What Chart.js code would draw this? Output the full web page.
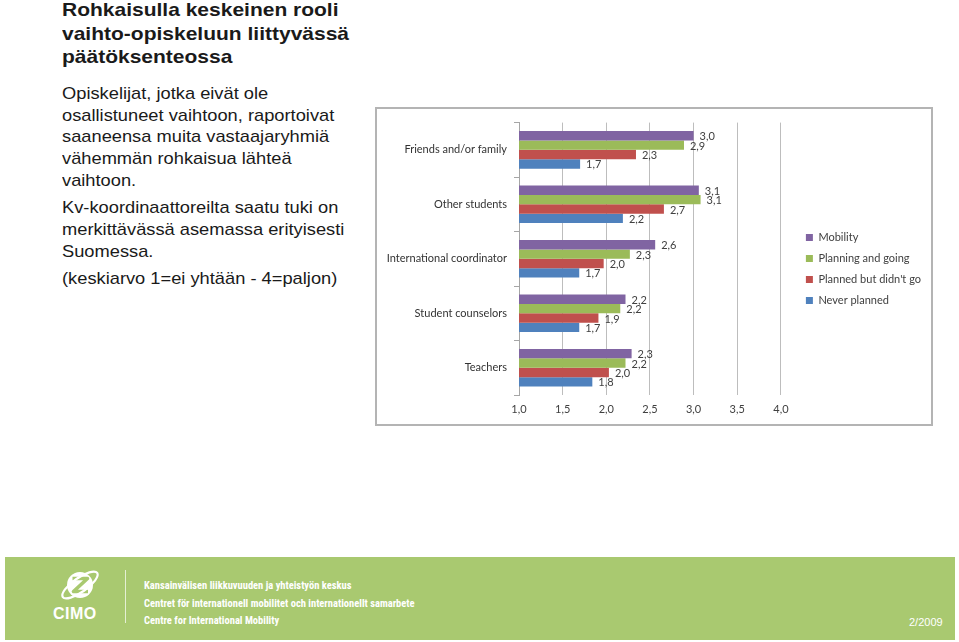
<!DOCTYPE html>
<html>
<head>
<meta charset="utf-8">
<script src="https://cdn.jsdelivr.net/npm/chart.js@4.4.1/dist/chart.umd.min.js"></script>
<style>
  html, body { margin:0; padding:0; background:#fff; }
  body { width:959px; height:642px; overflow:hidden; position:relative; font-family:"Liberation Sans", Arial, sans-serif; color:#1a1a1a; }
  #title { position:absolute; left:62px; top:-2px; font-weight:bold; font-size:19px; line-height:23.5px; white-space:nowrap; transform:scaleX(1.105); transform-origin:0 0; }
  #bodytext { position:absolute; left:62px; top:83px; font-size:17px; line-height:21.7px; white-space:nowrap; transform:scaleX(1.075); transform-origin:0 0; }
  #bodytext p { margin:0 0 5.6px 0; }
  #frame { position:absolute; left:375px; top:107px; width:558px; height:319px; box-sizing:border-box; border:2px solid #b4b4b4; background:#fff; }
  #chartbox { position:absolute; left:0; top:0; width:554px; height:315px; }
  #footer { position:absolute; left:5px; top:557px; width:950px; height:83px; background:#a9c970; }
  #logo { position:absolute; left:52px; top:8px; }
  #cimo { position:absolute; left:48px; top:48px; color:#fff; font-weight:bold; font-size:16px; letter-spacing:0.5px; font-family:"Liberation Sans", Arial, sans-serif; }
  #vline { position:absolute; left:120px; top:13px; width:1px; height:53px; background:rgba(255,255,255,0.7); }
  .ft { position:absolute; left:139px; color:#fff; font-family:"Liberation Sans Narrow","Roboto Condensed",Roboto,sans-serif; font-weight:bold; font-size:10.5px; white-space:nowrap; }
  #date { position:absolute; left:904px; top:59px; color:#fff; font-size:11px; font-family:"Liberation Sans", Arial, sans-serif; }
</style>
</head>
<body>
<div id="title">Rohkaisulla keskeinen rooli<br>vaihto-opiskeluun liittyvässä<br>päätöksenteossa</div>
<div id="bodytext">
  <p>Opiskelijat, jotka eivät ole<br>osallistuneet vaihtoon, raportoivat<br>saaneensa muita vastaajaryhmiä<br>vähemmän rohkaisua lähteä<br>vaihtoon.</p>
  <p>Kv-koordinaattoreilta saatu tuki on<br>merkittävässä asemassa erityisesti<br>Suomessa.</p>
  <p>(keskiarvo 1=ei yhtään - 4=paljon)</p>
</div>

<div id="frame"><div id="chartbox"><canvas id="c"></canvas></div></div>

<div id="footer">
  <svg id="logo" width="46" height="40" viewBox="0 0 46 40">
    <circle cx="23" cy="20" r="13" fill="#fff"/>
    <path d="M15.5 13.5 H30.5 L16.5 26.5 H31" stroke="#a9c970" stroke-width="3.6" fill="none" stroke-linejoin="round"/>
    <ellipse cx="23" cy="20" rx="21" ry="7" transform="rotate(-35 23 20)" stroke="#fff" stroke-width="2.2" fill="none"/>
  </svg>
  <div id="cimo">CIMO</div>
  <div id="vline"></div>
  <div class="ft" style="top:22px">Kansainvälisen liikkuvuuden ja yhteistyön keskus</div>
  <div class="ft" style="top:39.5px">Centret för internationell mobilitet och internationellt samarbete</div>
  <div class="ft" style="top:57px">Centre for International Mobility</div>
  <div id="date">2/2009</div>
</div>

<script>
const categories = ["Friends and/or family", "Other students", "International coordinator", "Student counselors", "Teachers"];
const seriesNames = ["Mobility", "Planning and going", "Planned but didn't go", "Never planned"];
const mobility          = [3.00, 3.06, 2.56, 2.22, 2.29];
const planningAndGoing  = [2.89, 3.08, 2.27, 2.16, 2.22];
const plannedButDidntGo = [2.34, 2.66, 1.97, 1.91, 2.03];
const neverPlanned      = [1.70, 2.19, 1.69, 1.69, 1.84];
const xTickValues = [1.0, 1.5, 2.0, 2.5, 3.0, 3.5, 4.0];
const seriesColors = ["#8064a2", "#9bbb59", "#c0504d", "#4f81bd"];

const fmt = v => (Math.round(v * 10) / 10).toFixed(1).replace('.', ',');

Chart.defaults.font.family = "Lato, 'Open Sans', sans-serif";
Chart.defaults.color = '#404040';

const valueLabels = {
  id: 'valueLabels',
  afterDatasetsDraw(chart) {
    const ctx = chart.ctx;
    ctx.save();
    ctx.font = "11px Lato, 'Open Sans', sans-serif";
    ctx.fillStyle = '#404040';
    ctx.textAlign = 'left';
    ctx.textBaseline = 'middle';
    chart.data.datasets.forEach((ds, i) => {
      const meta = chart.getDatasetMeta(i);
      meta.data.forEach((bar, j) => {
        ctx.fillText(fmt(ds.data[j]), bar.x + 6, bar.y + 1);
      });
    });
    ctx.restore();
  }
};

const allSeries = [mobility, planningAndGoing, plannedButDidntGo, neverPlanned];

new Chart(document.getElementById('c'), {
  type: 'bar',
  data: {
    labels: categories,
    datasets: allSeries.map((d, i) => ({
      label: seriesNames[i],
      data: d,
      backgroundColor: seriesColors[i],
      borderWidth: 0,
      categoryPercentage: 0.69,
      barPercentage: 1.0
    }))
  },
  options: {
    indexAxis: 'y',
    responsive: true,
    maintainAspectRatio: false,
    animation: false,
    layout: { padding: { top: 12, bottom: 7, left: 0, right: 0 } },
    plugins: {
      tooltip: { enabled: false },
      legend: {
        position: 'right',
        align: 'center',
        maxWidth: 220,
        labels: { boxWidth: 7, boxHeight: 7, padding: 10, color: '#404040', font: { size: 11 } }
      }
    },
    scales: {
      x: {
        min: 1, max: 4,
        afterBuildTicks(s) { s.ticks = xTickValues.map(v => ({ value: v })); },
        ticks: { callback: v => Number(v).toFixed(1).replace('.', ','), color: '#404040', font: { size: 11 }, padding: 8 },
        grid: { color: '#bdbdbd', drawTicks: false, lineWidth: 1 },
        border: { display: false },
        afterFit(s) { s.height = 22; }
      },
      y: {
        ticks: { color: '#333333', font: { size: 11 }, padding: 7 },
        grid: { drawOnChartArea: false, drawTicks: true, tickLength: 5, color: '#a6a6a6', offset: true },
        border: { display: true, color: '#a6a6a6' },
        afterFit(s) { s.width = 142; }
      },
      gap: {
        type: 'linear', position: 'right', display: true,
        grid: { display: false }, ticks: { display: false }, border: { display: false },
        afterFit(s) { s.width = 15; }
      }
    }
  },
  plugins: [valueLabels]
});
</script>
</body>
</html>
